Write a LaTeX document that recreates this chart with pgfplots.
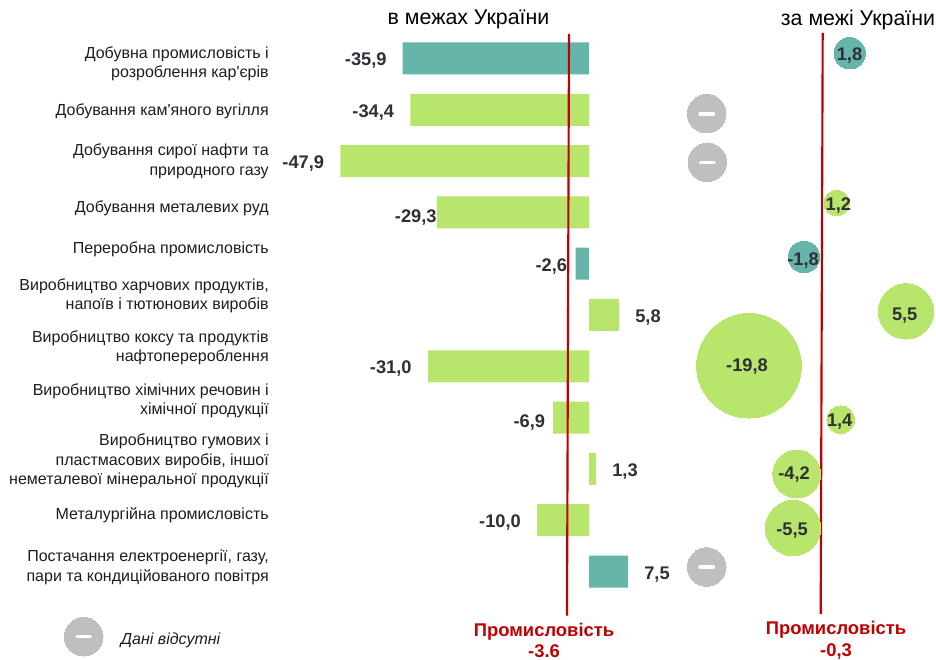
\documentclass[border=0pt]{standalone}
\usepackage{pgfplots}
\pgfplotsset{compat=1.18}
\usepackage{fontspec}
\setmainfont{Liberation Sans}
\newfontfamily\plainf{Liberation Sans}
\definecolor{barteal}{RGB}{102,181,171}
\definecolor{bargreen}{RGB}{184,229,107}
\definecolor{bubgrey}{RGB}{191,191,191}
\definecolor{redl}{RGB}{192,0,0}
\definecolor{lab}{RGB}{47,47,56}
\pgfplotsset{
  full/.style={scale only axis,width=702pt,height=495pt,at={(0,0)},anchor=south west,hide axis,clip=false},
  bub/.style={only marks,mark=*,scatter,
    visualization depends on=\thisrow{r}*0.75\as\bubr,
    scatter/@pre marker code/.style={/tikz/mark size=\bubr},
    scatter/@post marker code/.style={},
    mark options={draw=#1,fill=#1,line width=0pt}},
  vals/.style={draw=none,mark=none,nodes near coords,point meta=explicit symbolic,
    every node near coord/.append style={anchor=center,inner sep=0pt,text height=10pt,text depth=0pt,text=lab,
      font=\fontsize{13.7}{16}\selectfont\bfseries}},
}
\begin{document}
\begin{tikzpicture}
\path[use as bounding box] (0,0) rectangle (702pt,495pt);
% bars in value units
\begin{axis}[full,xmin=-113.487,xmax=66.859,ymin=-1.14,ymax=11.725,y dir=reverse]
\addplot[xbar,bar width=24pt,bar shift=0pt,draw=none,fill=barteal] table {
x y
-35.9 0
-2.6 4
7.5 10
};
\addplot[xbar,bar width=24pt,bar shift=0pt,draw=none,fill=bargreen] table {
x y
-34.4 1
-47.9 2
-29.3 3
5.8 5
-31.0 6
-6.9 7
1.3 8
-10.0 9
};
\end{axis}
% everything else in reference pixel positions
\begin{axis}[full,xmin=0,xmax=936,ymin=0,ymax=660,y dir=reverse]
\addplot[bub=barteal] table {
x y r
849.7 53.3 15.7
804 257 15.7
};
\addplot[bub=bargreen] table {
x y r
836.7 203 12.8
906 311.3 27.7
749 365.7 52.3
840.7 419.7 13.8
796.7 474 24
793 528 27.7
};
\addplot[bub=bubgrey] table {
x y r
706.7 113.7 19.3
707.3 162.3 19.3
706.7 567 19.3
83.7 636.7 19.3
};
\addplot[only marks,mark=-,mark size=5pt,mark options={draw=white,line width=2.6pt,line cap=round}] coordinates {
(706.7,114) (707.3,162.3) (706.7,567) (83.7,636.7)};
\addplot[redl,line width=1.6pt] coordinates {(569,34) (567,615.7)};
\addplot[redl,line width=1.6pt] coordinates {(822.7,33) (820.7,614)};
% value labels
\addplot[vals] table[meta=t] {
x y t
365.8 59 -35,9
373.3 110.7 -34,4
303.3 162 -47,9
415.8 216 -29,3
551.3 265 -2,6
648 315.7 5,8
390.8 366.7 -31,0
529.3 420.7 -6,9
625 470 1,3
500 520.7 -10,0
657 572.7 7,5
849.5 54 1,8
838.3 204 1,2
803 259 -1,8
904.7 313.7 5,5
747 364.7 -19,8
839.7 420 1,4
794 473 -4,2
792 528.7 -5,5
};
% texts
\tikzset{cat/.style={anchor=east,align=right,inner sep=0pt,font=\fontsize{12}{14.5}\selectfont,text=lab!60!black}}
\node[cat] at (axis cs:269,64) {Добувна промисловість і\\розроблення кар{\plainf '}єрів};
\node[cat] at (axis cs:269,111.7) {Добування кам{\plainf '}яного вугілля};
\node[cat] at (axis cs:269,161.3) {Добування сирої нафти та\\природного газу};
\node[cat] at (axis cs:269,208.7) {Добування металевих руд};
\node[cat] at (axis cs:269,249.7) {Переробна промисловість};
\node[cat] at (axis cs:269,295.8) {Виробництво харчових продуктів,\\напоїв і тютюнових виробів};
\node[cat] at (axis cs:269,348) {Виробництво коксу та продуктів\\нафтоперероблення};
\node[cat] at (axis cs:269,400.7) {Виробництво хімічних речовин і\\хімічної продукції};
\node[cat] at (axis cs:269,461) {Виробництво гумових і\\пластмасових виробів, іншої\\неметалевої мінеральної продукції};
\node[cat] at (axis cs:269,515.3) {Металургійна промисловість};
\node[cat] at (axis cs:269,567.3) {Постачання електроенергії, газу,\\пари та кондиційованого повітря};
\node[anchor=center,inner sep=0pt,font=\fontsize{16}{18}\selectfont] at (axis cs:468.5,19.5) {в межах України};
\node[anchor=center,inner sep=0pt,font=\fontsize{16}{18}\selectfont] at (axis cs:858,19.5) {за межі України};
\node[anchor=center,align=center,inner sep=0pt,text=redl,font=\fontsize{13.8}{16}\selectfont\bfseries] at (axis cs:544,640.5) {Промисловість\\-3.6};
\node[anchor=center,align=center,inner sep=0pt,text=redl,font=\fontsize{13.8}{16.3}\selectfont\bfseries] at (axis cs:836,640.5) {Промисловість\\-0,3};
\node[anchor=west,inner sep=0pt,font=\fontsize{12}{14}\selectfont\itshape,text=lab!60!black] at (axis cs:120.7,640) {Дані відсутні};
\end{axis}
\end{tikzpicture}
\end{document}
